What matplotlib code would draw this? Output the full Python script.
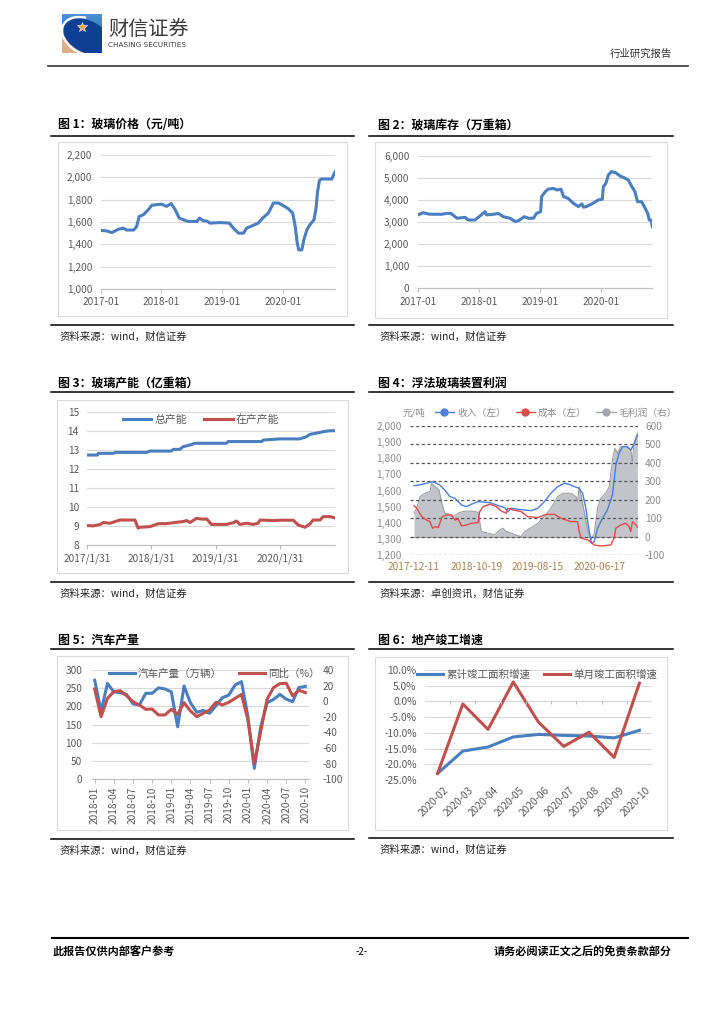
import matplotlib.pyplot as plt
import matplotlib.patches as mpatches
import matplotlib.transforms as mtrans
from matplotlib.lines import Line2D
from matplotlib.ticker import StrMethodFormatter, FuncFormatter
import numpy as np

plt.rcParams['font.family'] = ['Noto Sans CJK SC', 'DejaVu Sans']
plt.rcParams['axes.unicode_minus'] = False

# ---- data ----
# fig1: glass price, x = months since 2017-01
price_m = [0, 1.2, 2.2, 3.5, 4.5, 5.1, 6.5, 7.1, 7.6, 8.4, 9.4, 10.1, 12.0, 13.0, 13.9, 14.7,
           15.5, 16.3, 17.3, 19.0, 19.5, 20.3, 20.9, 21.6, 23.6, 25.4, 26.2, 27.2, 28.2, 28.8,
           30.1, 31.1, 32.1, 33.1, 34.1, 35.1, 36.1, 37.0, 37.9, 38.4, 38.8, 39.1, 39.7, 40.1,
           40.7, 41.3, 42.1, 42.5, 42.8, 43.2, 43.6, 45.6, 46.25]
price_v = [1525, 1520, 1505, 1535, 1545, 1528, 1528, 1560, 1650, 1665, 1710, 1750, 1760, 1740,
           1765, 1710, 1635, 1620, 1605, 1605, 1635, 1610, 1610, 1590, 1595, 1590, 1545, 1500,
           1500, 1545, 1570, 1590, 1640, 1680, 1770, 1770, 1745, 1720, 1680, 1560, 1410, 1350,
           1350, 1440, 1530, 1575, 1620, 1720, 1870, 1975, 1985, 1985, 2050]
yr_ticks = [0, 12, 24, 36]
yr_labels = ['2017-01', '2018-01', '2019-01', '2020-01']

# fig2: glass inventory
stock_m = [0, 1.1, 2.1, 3.1, 4.7, 5.7, 6.5, 7.7, 9.3, 9.9, 11.2, 12.2, 13.2, 13.5, 15.2, 15.8,
           16.8, 18.1, 19.1, 19.7, 20.9, 21.7, 22.7, 23.3, 24.1, 24.3, 25.0, 25.6, 26.6, 27.3,
           28.1, 28.6, 29.5, 30.5, 31.5, 32.2, 32.5, 33.1, 34.4, 35.4, 36.2, 36.4, 36.9, 37.4,
           38.0, 38.8, 39.7, 40.7, 41.3, 42.0, 42.6, 43.1, 43.9, 44.6, 45.1, 45.4, 45.8, 46.0]
stock_v = [3320, 3420, 3360, 3350, 3350, 3390, 3390, 3170, 3210, 3090, 3090, 3270, 3470, 3320,
           3360, 3390, 3240, 3170, 3020, 3050, 3240, 3170, 3170, 3390, 3470, 4150, 4370, 4490,
           4520, 4450, 4480, 4150, 4070, 3850, 3700, 3820, 3670, 3700, 3850, 4000, 4030, 4600,
           4750, 5130, 5280, 5230, 5080, 4980, 4900, 4600, 4370, 3920, 3920, 3620, 3390, 3090,
           3090, 2790]

# fig3: capacity
cap_tot_m = [0, 1.9, 2.05, 4.9, 5.2, 11.1, 11.7, 15.7, 16.1, 17.3, 17.9, 19.2, 20.1, 26.0, 26.3,
             32.6, 32.9, 36.0, 39.7, 41.0, 41.6, 42.8, 44.1, 45.3, 46.3]
cap_tot_v = [12.75, 12.75, 12.84, 12.84, 12.89, 12.89, 12.96, 12.96, 13.05, 13.05, 13.19, 13.28,
             13.37, 13.37, 13.46, 13.46, 13.54, 13.60, 13.60, 13.72, 13.84, 13.90, 13.98, 14.03,
             14.03]
cap_run_m = [0, 1.1, 2.4, 3.0, 4.2, 5.2, 6.1, 8.9, 9.5, 9.8, 11.7, 12.6, 13.3, 14.8, 16.1, 17.9,
             18.6, 19.2, 20.4, 21.7, 22.3, 23.2, 26.0, 27.3, 27.9, 28.5, 29.8, 31.0, 31.9, 32.3,
             34.8, 36.0, 38.5, 39.4, 40.7, 41.6, 42.2, 43.5, 44.1, 45.3, 46.3]
cap_run_v = [9.04, 9.02, 9.10, 9.20, 9.16, 9.25, 9.33, 9.33, 8.90, 8.95, 8.98, 9.07, 9.14, 9.14,
             9.19, 9.25, 9.30, 9.20, 9.42, 9.37, 9.39, 9.10, 9.10, 9.19, 9.28, 9.10, 9.16, 9.10,
             9.16, 9.33, 9.30, 9.32, 9.32, 9.07, 8.95, 9.12, 9.33, 9.33, 9.51, 9.51, 9.44]
cap_ticks = [0, 12, 24, 36]
cap_labels = ['2017/1/31', '2018/1/31', '2019/1/31', '2020/1/31']

# fig4: float glass profit, x = days since 2017-12-11
rev_d = [0, 21, 63, 79, 87, 104, 128, 153, 178, 203, 236, 260, 285, 318, 351, 376, 409, 433,
         450, 466, 483, 516, 549, 582, 615, 647, 680, 713, 746, 771, 796, 820, 837, 853, 870,
         881, 895, 911, 936, 960, 985, 1002, 1018, 1035, 1059, 1076, 1092, 1109]
rev_v = [1630, 1634, 1645, 1650, 1655, 1650, 1634, 1603, 1562, 1552, 1510, 1500, 1515, 1531,
         1527, 1525, 1510, 1500, 1494, 1469, 1490, 1483, 1479, 1475, 1490, 1531, 1583, 1624,
         1645, 1638, 1624, 1614, 1583, 1490, 1345, 1273, 1283, 1366, 1428, 1479, 1572, 1758,
         1831, 1872, 1872, 1851, 1886, 1944]
cost_d = [0, 13, 38, 63, 79, 92, 104, 120, 140, 161, 186, 203, 219, 236, 260, 285, 318, 326,
          343, 376, 409, 433, 458, 466, 491, 532, 565, 615, 656, 697, 729, 779, 812, 820, 829,
          862, 895, 927, 977, 993, 1002, 1026, 1051, 1068, 1076, 1084, 1100, 1109]
cost_v = [1506, 1490, 1438, 1417, 1407, 1366, 1376, 1370, 1438, 1448, 1448, 1417, 1424, 1380,
          1386, 1397, 1401, 1469, 1500, 1515, 1500, 1473, 1459, 1490, 1479, 1469, 1438, 1432,
          1452, 1452, 1428, 1407, 1407, 1345, 1304, 1294, 1262, 1256, 1262, 1304, 1366, 1386,
          1397, 1376, 1345, 1407, 1390, 1372]
gp_d = [0, 13, 30, 54, 79, 87, 104, 124, 140, 153, 178, 194, 219, 244, 269, 301, 318, 334, 367,
        400, 425, 441, 458, 483, 516, 532, 549, 582, 615, 647, 680, 713, 738, 779, 804, 812, 820,
        829, 845, 862, 878, 895, 911, 927, 952, 969, 985, 997, 1010, 1026, 1059, 1076, 1084,
        1092, 1109]
gp_v = [127, 154, 217, 235, 244, 289, 271, 253, 172, 127, 121, 108, 127, 136, 139, 136, 132, 27,
        18, 9, 36, 45, 27, 18, 5, 0, 27, 49, 72, 108, 154, 217, 235, 235, 217, 190, 271, 226,
        136, 36, -18, 18, 154, 208, 235, 271, 416, 479, 452, 488, 488, 470, 407, 506, 561]
d4_ticks = [0, 312, 612, 919]
d4_labels = ['2017-12-11', '2018-10-19', '2019-08-15', '2020-06-17']

# fig5: auto production, monthly 2018-01 .. 2020-10
car_months = ['2018-01', '2018-02', '2018-03', '2018-04', '2018-05', '2018-06', '2018-07',
              '2018-08', '2018-09', '2018-10', '2018-11', '2018-12', '2019-01', '2019-02',
              '2019-03', '2019-04', '2019-05', '2019-06', '2019-07', '2019-08', '2019-09',
              '2019-10', '2019-11', '2019-12', '2020-01', '2020-02', '2020-03', '2020-04',
              '2020-05', '2020-06', '2020-07', '2020-08', '2020-09', '2020-10']
car_prod = [272, 187, 263, 240, 238, 233, 207, 204, 236, 236, 251, 248, 240, 144, 256, 210, 184,
            189, 181, 202, 224, 231, 259, 268, 172, 30, 143, 210, 219, 233, 220, 213, 252, 255]
car_yoy = [15.7, -19.8, 3.7, 12.3, 13.5, 7.1, -0.5, -4.8, -10.4, -10.0, -17.6, -17.6, -10.4,
           -16.8, -1.8, -12.5, -19.8, -15.5, -11.2, -1.4, -4.8, -1.4, 3.7, 8.8, -24.0, -79.5,
           -39.0, 2.3, 17.4, 22.5, 23.0, 7.0, 14.0, 11.0]

# fig6: completion growth
re_months = ['2020-02', '2020-03', '2020-04', '2020-05', '2020-06', '2020-07', '2020-08',
             '2020-09', '2020-10']
re_cum = [-22.9, -15.8, -14.5, -11.3, -10.5, -10.8, -11.0, -11.6, -9.2]
re_month = [-22.9, -0.8, -8.9, 6.2, -6.6, -14.3, -9.8, -17.8, 5.8]

# ---- page ----
W, H = 724, 1024
fig = plt.figure(figsize=(W / 100, H / 100), dpi=100)
fig.patch.set_facecolor('white')

BLUE = '#4A7EBF'
RED = '#C0504D'
TICKC = '#595959'
GRIDC = '#D9D9D9'
TS = 7.3


def box(x0, y0, x1, y1):
    return [x0 / W, 1 - y1 / H, (x1 - x0) / W, (y1 - y0) / H]


def txt(x, y, s, **kw):
    fig.text(x / W, 1 - y / H, s, **kw)


def hline(x0, x1, y, lw=1.1, color='black'):
    fig.add_artist(Line2D([x0 / W, x1 / W], [1 - y / H, 1 - y / H], transform=fig.transFigure,
                          color=color, lw=lw))


def frame(x0, y0, x1, y1):
    fig.add_artist(mpatches.Rectangle((x0 / W, 1 - y1 / H), (x1 - x0) / W, (y1 - y0) / H,
                                      transform=fig.transFigure, fill=False,
                                      edgecolor=GRIDC, lw=0.8))


def panel(tx, ty, title, lx0, lx1, ly_top, ly_bot, src):
    txt(tx, ty, title, fontsize=8.6, fontweight='bold', va='center', color='black')
    hline(lx0, lx1, ly_top)
    hline(lx0, lx1, ly_bot)
    txt(tx + 2, ly_bot + 12, src, fontsize=7.5, va='center', color='#222222', style='italic')


def style_ax(ax):
    for s in ['top', 'right', 'left']:
        ax.spines[s].set_visible(False)
    ax.spines['bottom'].set_color('#BFBFBF')
    ax.grid(axis='y', color=GRIDC, lw=0.8)
    ax.set_axisbelow(True)
    ax.tick_params(axis='y', length=0, labelsize=TS, labelcolor=TICKC, pad=6)
    ax.tick_params(axis='x', length=3, color='#BFBFBF', labelsize=TS, labelcolor=TICKC, pad=3)


# header
logo = fig.add_axes(box(62, 14, 102, 53))
logo.set_xlim(0, 1)
logo.set_ylim(0, 1)
logo.axis('off')
grad = np.linspace(0, 1, 50).reshape(-1, 1)
logo.imshow(grad, extent=[0, 1, 0, 1], cmap=plt.matplotlib.colors.LinearSegmentedColormap.from_list(
    'lg', ['#4F8FD6', '#1F5BAE']), aspect='auto', origin='upper')
logo.add_patch(mpatches.Rectangle((0, 0), 0.55, 0.4, color='#DDAE88', zorder=2))
ell = mpatches.Ellipse((0.62, 0.42), 1.2, 0.78, angle=-28, color='#0E3F93', zorder=3)
logo.add_patch(ell)
ell.set_clip_path(logo.patch)
arc = mpatches.Arc((0.62, 0.42), 1.32, 0.9, angle=-28, theta1=120, theta2=330, color='white',
                   lw=1.6, zorder=4)
logo.add_patch(arc)
logo.plot([0.5], [0.66], marker='*', ms=7, color='#F2A03D', mec='white', mew=0.4, zorder=5)
txt(108, 30, '财信证券', fontsize=14.5, color='#3A3A3A', va='center')
txt(108, 45, 'CHASING SECURITIES', fontsize=5.2, color='#3A3A3A', va='center',
    family='DejaVu Sans')
txt(672, 54, '行业研究报告', fontsize=7.5, color='#333333', ha='right', va='center')
hline(48, 688, 66, lw=1.2, color='#333333')

# footer
hline(52, 688, 938, lw=1.5)
txt(53, 952, '此报告仅供内部客户参考', fontsize=8, fontweight='bold', va='center')
txt(362, 952, '-2-', fontsize=7, va='center', ha='center')
txt(672, 952, '请务必阅读正文之后的免责条款部分', fontsize=8, fontweight='bold', va='center',
    ha='right')

# ---- fig 1 ----
panel(58, 125, '图 1：玻璃价格（元/吨）', 51, 354, 135.7, 325, '资料来源：wind，财信证券')
frame(58, 142, 347, 316)
ax1 = fig.add_axes(box(100.7, 155, 335, 289))
ax1.plot(price_m, price_v, color=BLUE, lw=2.2, solid_joinstyle='round')
ax1.set_xlim(0, 46.25)
ax1.set_ylim(1000, 2200)
ax1.set_yticks(np.arange(1000, 2201, 200))
ax1.yaxis.set_major_formatter(StrMethodFormatter('{x:,.0f}'))
ax1.set_xticks(yr_ticks)
ax1.set_xticklabels(yr_labels)
style_ax(ax1)

# ---- fig 2 ----
panel(377.7, 125, '图 2：玻璃库存（万重箱）', 369, 673, 135.7, 325, '资料来源：wind，财信证券')
frame(375, 142, 667, 318)
ax2 = fig.add_axes(box(417.7, 155.7, 652.3, 288.3))
ax2.plot(stock_m, stock_v, color=BLUE, lw=2.2, solid_joinstyle='round')
ax2.set_xlim(0, 46.0)
ax2.set_ylim(0, 6000)
ax2.set_yticks(np.arange(0, 6001, 1000))
ax2.yaxis.set_major_formatter(StrMethodFormatter('{x:,.0f}'))
ax2.set_xticks(yr_ticks)
ax2.set_xticklabels(yr_labels)
style_ax(ax2)

# ---- fig 3 ----
panel(58, 383, '图 3：玻璃产能（亿重箱）', 51, 354, 391.7, 581.7, '资料来源：wind，财信证券')
frame(57, 400, 348, 573)
ax3 = fig.add_axes(box(87.3, 412.3, 335, 545.3))
ax3.plot(cap_tot_m, cap_tot_v, color=BLUE, lw=2.2, label='总产能')
ax3.plot(cap_run_m, cap_run_v, color=RED, lw=2.2, label='在产产能')
ax3.set_xlim(0, 46.3)
ax3.set_ylim(8, 15)
ax3.set_yticks(range(8, 16))
ax3.set_xticks(cap_ticks)
ax3.set_xticklabels(cap_labels)
style_ax(ax3)
ax3.legend(loc='upper center', bbox_to_anchor=(0.46, 1.06), ncol=2, frameon=False, fontsize=7.8,
           handlelength=2.6, handletextpad=0.3, columnspacing=1.6, labelcolor=TICKC)

# ---- fig 4 ----
panel(377.7, 383, '图 4：浮法玻璃装置利润', 369, 673, 391.7, 581.7, '资料来源：卓创资讯，财信证券')
ax4 = fig.add_axes(box(410, 426, 638, 555))
ax4.fill_between(gp_d, 0, gp_v, color='#C3C4C9', lw=0, zorder=1)
ax4.plot(gp_d, gp_v, color='#9FA0A6', lw=0.8, zorder=1.5)
ax4.set_xlim(-20, 1112)
ax4.set_ylim(-100, 600)
ax4.set_yticks(np.arange(-100, 601, 100))
ax4.grid(axis='y', color='#555555', lw=0.9, linestyle=(0, (2.5, 2)))
ax4.set_axisbelow(False)
ax4.axhline(0, color='#A6A6A6', lw=0.8, zorder=2)
for s in ax4.spines.values():
    s.set_visible(False)
ax4.set_xticks(d4_ticks)
ax4.set_xticklabels(d4_labels)
ax4.tick_params(axis='x', length=0, labelsize=TS, labelcolor='#A9804F', pad=5)
ax4b = ax4.twinx()
ax4b.plot(rev_d, rev_v, color='#4A7FDA', lw=1.0)
ax4b.plot(cost_d, cost_v, color='#E24B4B', lw=1.0)
ax4b.set_ylim(1200, 2000)
ax4b.set_yticks(np.arange(1200, 2001, 100))
ax4b.yaxis.set_major_formatter(StrMethodFormatter('{x:,.0f}'))
for s in ax4b.spines.values():
    s.set_visible(False)
# area axis keeps its scale on the right, price lines on the left
ax4.yaxis.tick_right()
ax4b.yaxis.tick_left()
ax4.tick_params(axis='y', length=0, labelsize=TS, labelcolor='#8C8C8C', pad=5)
ax4b.tick_params(axis='y', length=0, labelsize=TS, labelcolor='#8C8C8C', pad=6)
txt(403, 412.7, '元/吨', fontsize=6.8, color='#8C8C8C', va='center')
h4 = [Line2D([], [], color='#4A7FDA', marker='o', ms=5, lw=1),
      Line2D([], [], color='#E24B4B', marker='o', ms=5, lw=1),
      Line2D([], [], color='#A5A6AC', marker='o', ms=5, lw=1)]
fig.legend(h4, ['收入（左）', '成本（左）', '毛利润（右）'], loc='center left',
           bbox_to_anchor=(426 / W, 1 - 412.7 / H), ncol=3, frameon=False, fontsize=7.0,
           handlelength=2.0, handletextpad=0.3, columnspacing=1.0, labelcolor='#8C8C8C')

# ---- fig 5 ----
panel(58, 640, '图 5：汽车产量', 51, 354, 649, 839, '资料来源：wind，财信证券')
frame(57, 656, 348, 830)
ax5 = fig.add_axes(box(92, 670, 309, 779.3))
xi = np.arange(len(car_months))
ax5.plot(xi, car_prod, color=BLUE, lw=2.2, label='汽车产量（万辆）')
ax5.set_xlim(-0.42, 33.57)
ax5.set_ylim(0, 300)
ax5.set_yticks(range(0, 301, 50))
ax5.set_xticks(xi[::3])
ax5.set_xticklabels(car_months[::3], rotation=90)
style_ax(ax5)
ax5.tick_params(axis='y', pad=7)
ax5.tick_params(axis='x', pad=2)
ax5b = ax5.twinx()
ax5b.plot(xi, car_yoy, color=RED, lw=2.2, label='同比（%）')
ax5b.set_ylim(-100, 40)
ax5b.set_yticks(range(-100, 41, 20))
for s in ax5b.spines.values():
    s.set_visible(False)
ax5b.tick_params(axis='y', length=0, labelsize=TS, labelcolor=TICKC, pad=10)
h5 = [Line2D([], [], color=BLUE, lw=2.2), Line2D([], [], color=RED, lw=2.2)]
fig.legend(h5, ['汽车产量（万辆）', '同比（%）'], loc='center left',
           bbox_to_anchor=(99 / W, 1 - 674 / H), ncol=2, frameon=False, fontsize=7.6,
           handlelength=2.5, handletextpad=0.3, columnspacing=1.6, labelcolor=TICKC)

# ---- fig 6 ----
panel(377.7, 640, '图 6：地产竣工增速', 369, 673, 649, 838, '资料来源：wind，财信证券')
frame(375, 657, 667, 830)
ax6 = fig.add_axes(box(425, 670, 652, 780))
xj = np.arange(len(re_months))
ax6.plot(xj, re_cum, color=BLUE, lw=2.2)
ax6.plot(xj, re_month, color=RED, lw=2.2)
ax6.set_xlim(-0.5, 8.5)
ax6.set_ylim(-25, 10)
ax6.set_yticks(range(-25, 11, 5))
ax6.yaxis.set_major_formatter(FuncFormatter(lambda v, p: f'{v:.1f}%'))
ax6.set_xticks(xj)
ax6.set_xticklabels(re_months, rotation=45, ha='right', va='center', rotation_mode='anchor')
style_ax(ax6)
ax6.spines['bottom'].set_visible(False)
ax6.tick_params(axis='x', length=0, pad=6)
ax6.axhline(0, color='#BFBFBF', lw=0.8, zorder=0.5)
ax6.vlines(np.arange(0.5, 8, 1), -0.7, 0, color='#BFBFBF', lw=0.8)
off = mtrans.ScaledTranslation(9 / 100, 0, fig.dpi_scale_trans)
for lb in ax6.get_xticklabels():
    lb.set_transform(lb.get_transform() + off)
h6 = [Line2D([], [], color=BLUE, lw=2.2), Line2D([], [], color=RED, lw=2.2)]
fig.legend(h6, ['累计竣工面积增速', '单月竣工面积增速'], loc='center left',
           bbox_to_anchor=(407 / W, 1 - 675 / H), ncol=2, frameon=False, fontsize=7.6,
           handlelength=2.5, handletextpad=0.3, columnspacing=1.3, labelcolor=TICKC)

fig.savefig('out.png', dpi=100, facecolor='white')
